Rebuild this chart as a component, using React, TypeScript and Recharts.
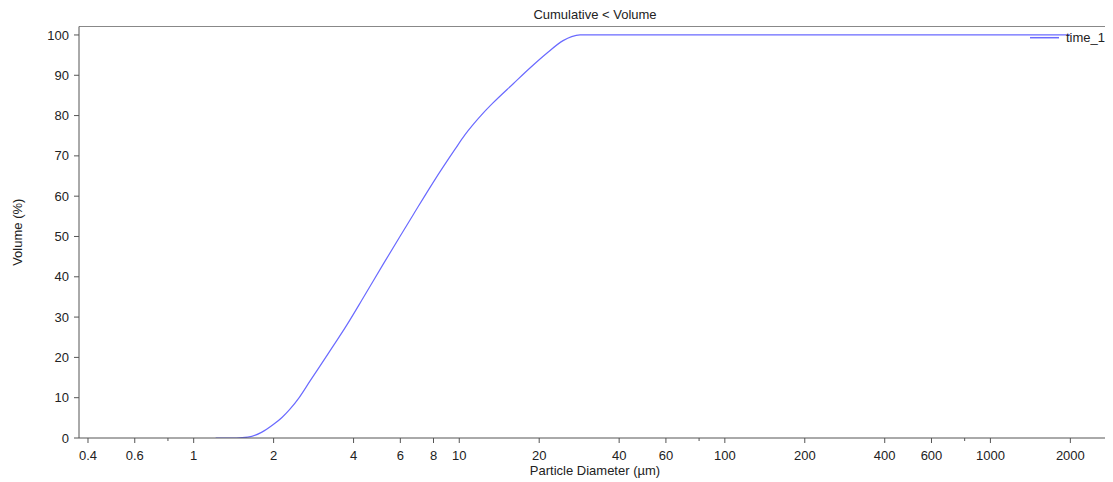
import React from 'react';
import { LineChart, Line, XAxis, YAxis, ReferenceLine, Legend } from 'recharts';

const diameters = [1.21, 1.45, 1.6, 1.8, 2.0, 2.15, 2.3, 2.5, 2.74, 3.26, 3.77, 4.35, 5.18, 5.98, 6.71, 7.99, 9.63, 10.5, 11.29, 12.3, 13.43, 15.97, 18.46, 21.3, 24.6, 26.5, 28.5, 35, 100, 1000, 2000];
const cumulative = [0, 0, 0.2, 1.4, 3.4, 5.1, 7.1, 10.1, 14.1, 21.6, 28.0, 34.8, 43.2, 50.0, 55.4, 63.5, 71.6, 75.2, 77.8, 80.6, 83.2, 87.9, 91.8, 95.4, 98.6, 99.6, 100, 100, 100, 100, 100];

const xMajorTicks = [0.4, 0.6, 1, 2, 4, 6, 8, 10, 20, 40, 60, 100, 200, 400, 600, 1000, 2000];
const xMinorTicks = [0.8, 80, 800];
const yTicks = [0, 10, 20, 30, 40, 50, 60, 70, 80, 90, 100];

const seriesName = 'time_1';
const chartTitle = 'Cumulative < Volume';
const xTitle = 'Particle Diameter (µm)';
const yTitle = 'Volume (%)';

const X_DOMAIN: [number, number] = [0.37, 2845];
const Y_DOMAIN: [number, number] = [0, 102.1];

const data = diameters.map((d, i) => ({ d, v: cumulative[i] }));
const allXTicks = [...xMajorTicks, ...xMinorTicks].sort((a, b) => a - b);

const FONT = '"Liberation Sans", Arial, sans-serif';
const TEXT = '#222';
const AXIS = '#555';
const LINE = '#6a6aff';

const renderXTick = (props: any) => {
  const { x, y, payload } = props;
  const minor = xMinorTicks.includes(payload.value);
  return (
    <g>
      <line x1={x} x2={x} y1={y} y2={y + (minor ? 3 : 5)} stroke={AXIS} />
      {!minor && (
        <text x={x} y={y + 21.6} textAnchor="middle" fontSize={13} fill={TEXT} fontFamily={FONT}>
          {String(payload.value)}
        </text>
      )}
    </g>
  );
};

const renderLegend = () => (
  <svg width={90} height={20} style={{ display: 'block' }}>
    <line x1={7} x2={36} y1={9.7} y2={9.7} stroke={LINE} strokeWidth={1.5} />
    <text x={43} y={14.3} fontSize={13} fill={TEXT} fontFamily={FONT}>{seriesName}</text>
  </svg>
);

export default function App() {
  return (
    <div style={{ position: 'relative', width: 1105, height: 474, fontFamily: FONT }}>
      <div style={{ position: 'absolute', left: 71, width: 1032, top: 0, height: 14, lineHeight: '14px', textAlign: 'center', fontSize: 13, color: TEXT }}>
        {chartTitle}
      </div>
      <LineChart width={1105} height={474} data={data} margin={{ top: 18.5, right: 2, left: 0, bottom: 0 }}>
        <XAxis
          dataKey="d"
          type="number"
          scale="log"
          domain={X_DOMAIN}
          allowDataOverflow
          ticks={allXTicks}
          interval={0}
          tickSize={0}
          tickMargin={0}
          tickLine={false}
          tick={renderXTick}
          axisLine={{ stroke: AXIS }}
          height={44}
          label={(p: any) => {
            const vb = p.viewBox;
            return (
              <text x={vb.x + vb.width / 2} y={vb.y + 36.7} textAnchor="middle" fontSize={13} fill={TEXT} fontFamily={FONT}>
                {xTitle}
              </text>
            );
          }}
        />
        <YAxis
          type="number"
          domain={Y_DOMAIN}
          allowDataOverflow
          ticks={yTicks}
          interval={0}
          tickSize={5}
          tickMargin={5}
          width={71}
          axisLine={{ stroke: AXIS }}
          tickLine={{ stroke: AXIS }}
          tick={{ fill: TEXT, fontSize: 13, fontFamily: FONT }}
          label={(p: any) => {
            const vb = p.viewBox;
            const cx = 9.2;
            const cy = vb.y + vb.height / 2;
            return (
              <text x={cx} y={cy} textAnchor="middle" dominantBaseline="central" transform={`rotate(-90, ${cx}, ${cy})`} fontSize={13} fill={TEXT} fontFamily={FONT}>
                {yTitle}
              </text>
            );
          }}
        />
        <ReferenceLine y={Y_DOMAIN[1]} stroke="#888" ifOverflow="visible" />
        <ReferenceLine x={X_DOMAIN[1]} stroke="#888" ifOverflow="visible" />
        <Line
          dataKey="v"
          name={seriesName}
          type="monotone"
          stroke={LINE}
          strokeWidth={1.2}
          dot={false}
          activeDot={false}
          isAnimationActive={false}
        />
        <Legend
          layout="vertical"
          verticalAlign="middle"
          align="center"
          content={renderLegend}
          wrapperStyle={{ position: 'absolute', left: 1015, top: 20, width: 90, height: 20 }}
        />
      </LineChart>
    </div>
  );
}
